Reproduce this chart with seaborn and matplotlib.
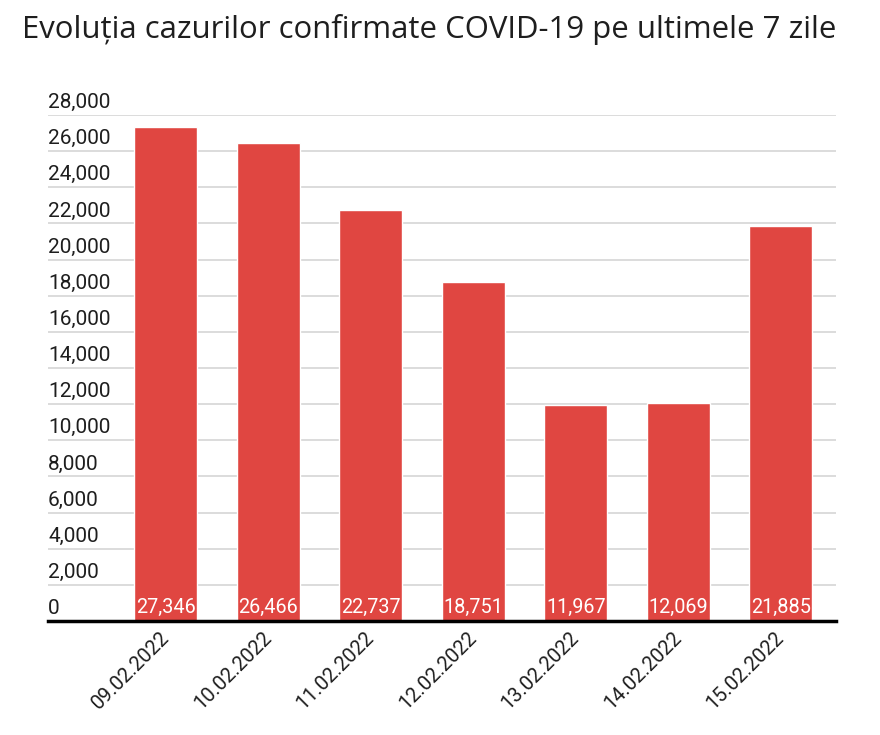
import numpy as np
import pandas as pd
import seaborn as sns
import matplotlib.pyplot as plt
import matplotlib.transforms as mtransforms

# Date si valori
dates = ["09.02.2022", "10.02.2022", "11.02.2022", "12.02.2022",
         "13.02.2022", "14.02.2022", "15.02.2022"]
cases = [27346, 26466, 22737, 18751, 11967, 12069, 21885]
y_ticks = [0, 2000, 4000, 6000, 8000, 10000, 12000, 14000,
           16000, 18000, 20000, 22000, 24000, 26000, 28000]

df = pd.DataFrame({"data": dates, "cazuri": cases})

sns.set_theme(style="white")
plt.rcParams["font.family"] = ["Roboto", "DejaVu Sans"]

bar_color = "#e04641"
text_color = "#1e1e1e"

fig = plt.figure(figsize=(8.8, 7.35), dpi=100)
ax = fig.add_axes([48 / 880, 1 - 621 / 735, (836 - 48) / 880, (621 - 115) / 735])

sns.barplot(data=df, x="data", y="cazuri", color=bar_color, saturation=1,
            width=0.615, ax=ax)

ax.set_xlim(-1.151, 6.537)
ax.set_ylim(0, 28000)

# grid
ax.set_yticks(y_ticks)
ax.yaxis.grid(True, color="#d9d9d9", lw=1.3)
ax.set_axisbelow(True)
ax.tick_params(axis="y", length=0, labelleft=False)

# y labels above gridlines
lbl_trans = mtransforms.blended_transform_factory(ax.transAxes, ax.transData)
lbl_trans = lbl_trans + mtransforms.ScaledTranslation(0, 5 / 72, fig.dpi_scale_trans)
for t in y_ticks:
    ax.text(0, t, f"{t:,}", transform=lbl_trans, ha="left", va="baseline",
            fontsize=15, color=text_color)

for s in ["top", "right", "left"]:
    ax.spines[s].set_visible(False)
ax.spines["bottom"].set_color("black")
ax.spines["bottom"].set_linewidth(2.5)
ax.spines["bottom"].set_zorder(5)

ax.set_xlabel("")
ax.set_ylabel("")
ax.tick_params(axis="x", length=0, pad=10)
ax.set_xticks(range(len(dates)))
ax.set_xticklabels(dates, rotation=45, ha="right", va="center",
                   rotation_mode="anchor", fontsize=14.5, color=text_color)

# valori in interiorul barelor
val_trans = ax.transData + mtransforms.ScaledTranslation(0, 5.5 / 72, fig.dpi_scale_trans)
for i, v in enumerate(cases):
    ax.text(i, 0, f"{v:,}", transform=val_trans, ha="center", va="baseline",
            fontsize=14.3, color="white", zorder=6)

fig.text(22 / 880, 1 - 38 / 735, "Evoluția cazurilor confirmate COVID-19 pe ultimele 7 zile",
         ha="left", va="baseline", fontsize=22.4, color=text_color,
         family=["Open Sans", "DejaVu Sans"])

fig.savefig("out.png", dpi=100)
